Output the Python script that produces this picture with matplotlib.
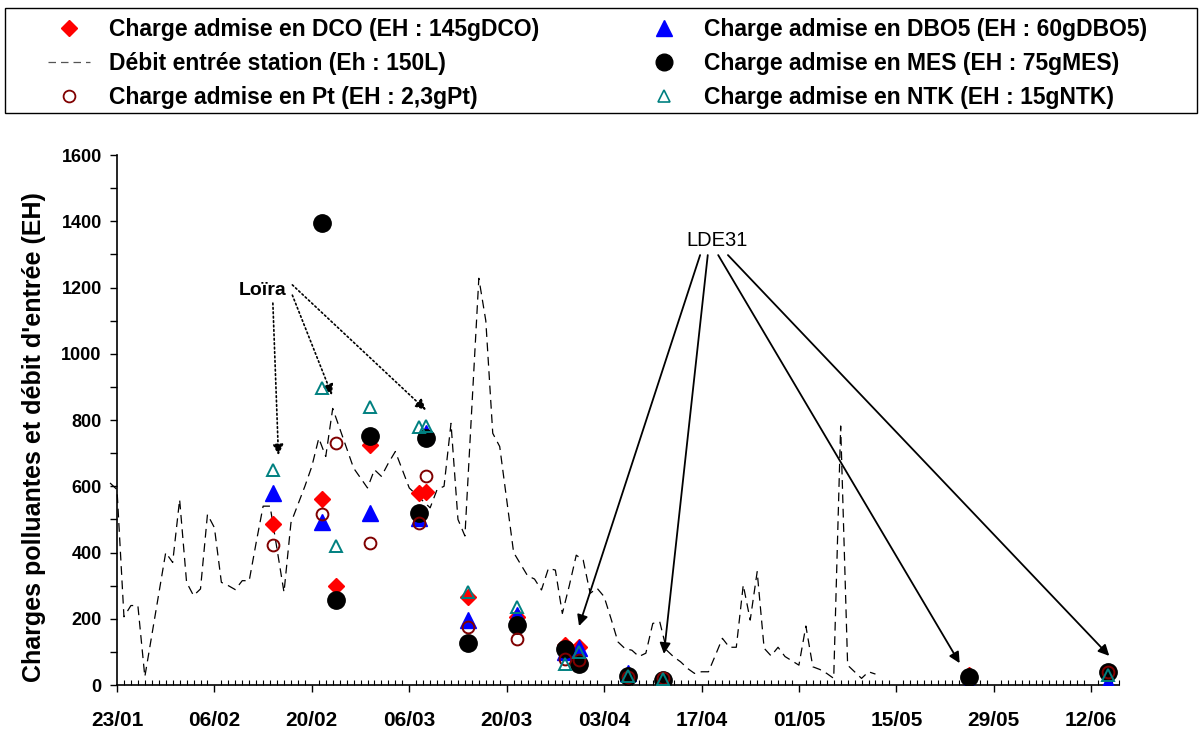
import datetime as dt
import matplotlib
matplotlib.use("Agg")
import matplotlib.pyplot as plt
import matplotlib.dates as mdates
from matplotlib.patches import Rectangle
from matplotlib.lines import Line2D
import numpy as np

plt.rcParams['font.family'] = ['Liberation Sans', 'DejaVu Sans']

# ------------------------ donnees ------------------------
annee = 2007
debut = dt.datetime(annee, 1, 23)

# debit journalier en entree de station (EH), jour 0 = 23/01
debit_jour0 = -1
debit_eh = [610, 590, 206, 240, 240, 25, 150, 275, 400, 370,
            560, 310, 270, 290, 515, 475, 310, 300, 288, 315,
            315, 430, 540, 540, 410, 280, 490, 545, 600, 660,
            745, 690, 835, 775, 715, 655, 625, 595, 650, 630,
            670, 705, 650, 595, 575, 555, 535, 590, 600, 790,
            500, 450, 840, 1228, 1100, 760, 720, 560, 400, 365,
            330, 320, 287, 352, 347, 216, 300, 392, 377, 277,
            292, 267, 200, 130, 110, 105, 86, 96, 186, 191,
            105, 85, 70, 50, 35, 40, 40, 90, 141, 114,
            114, 302, 196, 342, 111, 88, 114, 86, 73, 60,
            178, 55, 47, 35, 20, 782, 60, 40, 20, 40, 33]

# dates des bilans (prelevement vers 10h)
prelevements = ["14/02", "21/02", "23/02", "28/02", "07/03", "08/03", "14/03",
                "21/03", "28/03", "30/03", "06/04", "11/04", "25/05", "14/06"]

nan = np.nan
dco = [487, 561, 300, 725, 579, 584, 265, 206, 121, 116, 25, 12, 30, 35]
dbo5 = [579, 493, nan, 520, 505, 760, 196, 210, 100, 112, 35, 3, 3, 5]
mes = [nan, 1395, 257, 753, 520, 747, 128, 181, 108, 62, 27, 15, 25, 38]
pt = [423, 515, 730, 428, 488, 632, 174, 139, 80, 75, 25, 20, nan, 40]
ntk = [649, 896, 421, 840, 780, 782, 282, 236, 63, 101, 27, 17, nan, 30]


def jour(d):
    return debut + dt.timedelta(days=d)


dates_debit = [jour(debit_jour0 + i) for i in range(len(debit_eh))]
dates_prel = [dt.datetime.strptime(p + "/%d 10:00" % annee, "%d/%m/%Y %H:%M")
              for p in prelevements]

# ------------------------ figure ------------------------
fig = plt.figure(figsize=(12, 7.31), dpi=100)
ax = fig.add_axes([0.0975, 0.0629, 0.835, 0.725])

ax.plot(dates_debit, debit_eh, color='black', lw=0.9, dashes=(7, 4.5), clip_on=False, zorder=1)
ax.plot(dates_prel, dco, ls='none', marker='D', ms=8.2, color='#FF0000', zorder=2)
ax.plot(dates_prel, dbo5, ls='none', marker='^', ms=12, color='#0000FF', zorder=3)
ax.plot(dates_prel, mes, ls='none', marker='o', ms=12.5, color='black', zorder=4)
ax.plot(dates_prel, pt, ls='none', marker='o', ms=8.5, mfc='none', mec='#800000', mew=1.4, zorder=5)
ax.plot(dates_prel, ntk, ls='none', marker='^', ms=9, mfc='none', mec='#008080', mew=1.4, zorder=6)

ax.set_xlim(jour(0), jour(144))
ax.set_ylim(0, 1600)
ax.set_xticks([jour(14 * k) for k in range(11)])
ax.xaxis.set_minor_locator(mdates.DayLocator())
ax.xaxis.set_major_formatter(mdates.DateFormatter('%d/%m'))
ax.set_yticks(range(0, 1601, 200))
ax.set_yticks(range(0, 1601, 100), minor=True)

for s in ['top', 'right']:
    ax.spines[s].set_visible(False)
ax.spines['left'].set_linewidth(1.2)
ax.spines['bottom'].set_linewidth(1.2)
ax.tick_params(axis='x', which='major', direction='out', length=5, width=1, pad=14, labelsize=15)
ax.tick_params(axis='x', which='minor', direction='in', length=3.5, width=0.8)
ax.tick_params(axis='y', which='both', direction='out', length=5, width=1, pad=6, labelsize=13)
for lab in ax.get_xticklabels() + ax.get_yticklabels():
    lab.set_fontweight('bold')

ax.set_ylabel("Charges polluantes et débit d'entrée (EH)", fontsize=18, fontweight='bold')
ax.yaxis.set_label_coords(-0.071, 0.468)

# ------------------------ annotations ------------------------
ax.text(jour(20.9), 1192, "Loïra", fontsize=14, fontweight='bold', ha='center', va='center')
loira = [((22.4, 1153), (23.2, 694)), ((25.2, 1177), (30.9, 875)), ((25.2, 1208), (44.4, 830))]
for (d0, v0), (d1, v1) in loira:
    ax.annotate('', xy=(jour(d1), v1), xytext=(jour(d0), v0),
                arrowprops=dict(arrowstyle='-|>', ls=':', lw=1.2, color='black',
                                mutation_scale=16, shrinkA=0, shrinkB=0))

ax.text(jour(86.2), 1343, "LDE31", fontsize=14.5, ha='center', va='center')
lde = [((83.8, 1298), (66.4, 178)), ((84.9, 1298), (78.6, 94)),
       ((86.4, 1298), (121.1, 66)), ((87.8, 1298), (142.6, 88))]
for (d0, v0), (d1, v1) in lde:
    ax.annotate('', xy=(jour(d1), v1), xytext=(jour(d0), v0),
                arrowprops=dict(arrowstyle='-|>', lw=1.3, color='black',
                                mutation_scale=16, shrinkA=0, shrinkB=0))

# ------------------------ legende ------------------------
h_dco = Line2D([], [], ls='none', marker='D', ms=8, color='#FF0000')
h_debit = Line2D([], [], color='#555555', lw=0.9, dashes=(6, 4))
h_pt = Line2D([], [], ls='none', marker='o', ms=8.5, mfc='none', mec='#800000', mew=1.3)
h_dbo5 = Line2D([], [], ls='none', marker='^', ms=11, color='#0000FF')
h_mes = Line2D([], [], ls='none', marker='o', ms=12, color='black')
h_ntk = Line2D([], [], ls='none', marker='^', ms=8, mfc='none', mec='#008080', mew=1.2)
labels = ["Charge admise en DCO (EH : 145gDCO)",
          "Débit entrée station (Eh : 150L)",
          "Charge admise en Pt (EH : 2,3gPt)",
          "Charge admise en DBO5 (EH : 60gDBO5)",
          "Charge admise en MES (EH : 75gMES)",
          "Charge admise en NTK (EH : 15gNTK)"]
leg = fig.legend([h_dco, h_debit, h_pt, h_dbo5, h_mes, h_ntk], labels, ncol=2,
                 loc='upper left', bbox_to_anchor=(0.04, 0.975), frameon=False,
                 prop={'size': 16.5, 'weight': 'bold'}, handlelength=1.85,
                 handletextpad=0.8, columnspacing=4.55, labelspacing=0.48,
                 borderpad=0, borderaxespad=0)
fig.patches.append(Rectangle((5 / 1200, 1 - 113 / 731), 1192 / 1200, 105 / 731,
                             transform=fig.transFigure, fill=False, ec='black', lw=1))

fig.savefig('out.png', dpi=100)
